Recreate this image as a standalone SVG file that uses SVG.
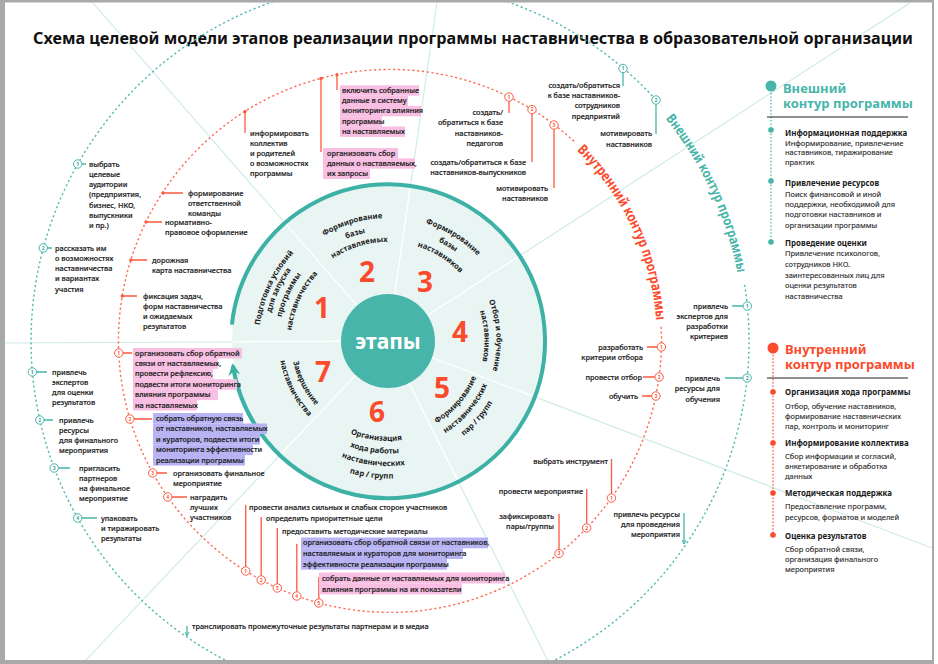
<svg xmlns="http://www.w3.org/2000/svg" width="938" height="664" viewBox="0 0 938 664">
<defs>
<style>
text{font-family:"Noto Sans","Open Sans","DejaVu Sans",sans-serif}
.lb{font-size:7.3px;fill:#1c1c1c;font-weight:500;stroke:#1c1c1c;stroke-width:0.18px}
.e{text-anchor:end}
.st{font-size:7.7px;font-weight:700;fill:#1c1c1c;text-anchor:middle}
.num{font-size:28px;font-weight:700;fill:#fb4a2c;text-anchor:middle}
.lr{stroke:#fb5a3f;stroke-width:1.3;fill:none}
.lt{stroke:#47b5a9;stroke-width:1.3;fill:none}
.mr{fill:#fff;stroke:#fb5a3f;stroke-width:1}
.mt{fill:#fff;stroke:#47b5a9;stroke-width:1}
.mnr{font-size:5px;font-weight:700;fill:#fb5a3f;text-anchor:middle}
.mnt{font-size:5px;font-weight:700;fill:#3a9e94;text-anchor:middle}
.dr{fill:#fb5a3f}
.rad{stroke:#cdeae6;stroke-width:1.1}
.radw{stroke:#ffffff;stroke-width:1.3}
.pk{fill:#f8bfe3}
.pu{fill:#b8b4f4}
.ph{font-size:7.9px;font-weight:700;fill:#1c1c1c}
.pb{font-size:7.5px;fill:#2a2a2a;stroke:#2a2a2a;stroke-width:0.12px}
.hd{font-size:13px;font-weight:700}
</style>
<clipPath id="fr"><rect x="5" y="2.5" width="927" height="657.5"/></clipPath>
<clipPath id="stc"><circle cx="388" cy="341" r="155"/></clipPath>
<marker id="ah" viewBox="0 0 10 10" refX="8" refY="5" markerWidth="12" markerHeight="12" markerUnits="userSpaceOnUse" orient="auto"><path d="M0,0 L10,5 L0,10 L3,5 Z" fill="#3db1a5"/></marker>
<marker id="sa" viewBox="0 0 10 10" refX="9" refY="5" markerWidth="5" markerHeight="5" markerUnits="userSpaceOnUse" orient="auto"><path d="M1,1 L9,5 L1,9" fill="none" stroke="#47b5a9" stroke-width="2"/></marker>
<path id="p1a" d="M296.8,432.2 A129,129 0 0 1 399.2,212.5"/>
<path id="p1b" d="M303.1,425.9 A120,120 0 0 1 398.5,221.5"/>
<path id="p1c" d="M310.9,418.1 A109,109 0 0 1 397.5,232.4"/>
<path id="p1d" d="M319.4,409.6 A97,97 0 0 1 396.5,244.4"/>
<path id="p2a" d="M265.2,334.6 A123,123 0 0 1 486.2,267.0"/>
<path id="p2b" d="M277.7,335.2 A110.5,110.5 0 0 1 476.2,274.5"/>
<path id="p2c" d="M289.1,335.8 A99,99 0 0 1 467.1,281.4"/>
<path id="p3a" d="M312.0,243.7 A123.5,123.5 0 0 1 508.8,366.7"/>
<path id="p3b" d="M319.3,253.1 A111.5,111.5 0 0 1 497.1,364.2"/>
<path id="p3c" d="M327.0,263.0 A99,99 0 0 1 484.8,361.6"/>
<path id="p4a" d="M419.7,237.2 A108.5,108.5 0 0 1 430.4,440.9"/>
<path id="p4b" d="M416.2,248.7 A96.5,96.5 0 0 1 425.7,429.8"/>
<path id="p5a" d="M353.8,430.2 A95.5,95.5 0 0 0 471.5,294.7"/>
<path id="p5b" d="M349.1,442.3 A108.5,108.5 0 0 0 482.9,288.4"/>
<path id="p5c" d="M344.5,454.4 A121.5,121.5 0 0 0 494.3,282.1"/>
<path id="p6a" d="M290.6,363.5 A100,100 0 0 0 477.1,386.4"/>
<path id="p6b" d="M278.4,366.3 A112.5,112.5 0 0 0 488.2,392.1"/>
<path id="p6c" d="M266.2,369.1 A125,125 0 0 0 499.4,397.8"/>
<path id="p6d" d="M254.0,371.9 A137.5,137.5 0 0 0 510.5,403.4"/>
<path id="p7a" d="M317.1,274.8 A97,97 0 0 0 399.8,437.3"/>
<path id="p7b" d="M307.9,266.3 A109.5,109.5 0 0 0 401.3,449.7"/>
<path id="pr" d="M366.7,75.0 A267,267 0 0 1 578.8,529.8"/>
<path id="pt" d="M359.1,-11.7 A354,354 0 0 1 640.3,591.3"/>
</defs>

<g id="frame">
<rect width="938" height="664" fill="#fff"/>
<rect x="0" y="0" width="934" height="664" fill="#a9a9a9"/>
<rect x="5" y="2.5" width="927" height="657.5" fill="#fff"/>
</g>

<g id="radials" clip-path="url(#fr)" class="rad">
<line x1="388" y1="341" x2="92" y2="2"/>
<line x1="388" y1="341" x2="437" y2="2"/>
<line x1="388" y1="341" x2="910" y2="3"/>
<line x1="388" y1="341" x2="932" y2="548"/>
<line x1="388" y1="341" x2="548" y2="661"/>
<line x1="388" y1="341" x2="85" y2="661"/>
<line x1="388" y1="341" x2="5" y2="343"/>
</g>

<text id="title" x="33" y="44" font-size="16.3" font-weight="700" fill="#111" textLength="880" lengthAdjust="spacingAndGlyphs">Схема целевой модели этапов реализации программы наставничества в образовательной организации</text>

<g id="contours" clip-path="url(#fr)">
<path d="M744.6,284.8 A359,359 0 1 1 660.9,105.5" fill="none" stroke="#52bcb1" stroke-width="1.4" stroke-dasharray="2.2 2.6"/>
<path d="M661.1,326.8 A271.5,271.5 0 1 1 575.2,142.4" fill="none" stroke="#ff6b55" stroke-width="1.4" stroke-dasharray="2.2 2.6"/>
<text font-size="14" font-weight="700" fill="#fb4a2c" text-anchor="middle"><textPath href="#pr" startOffset="50%" textLength="192" lengthAdjust="spacingAndGlyphs">Внутренний контур программы</textPath></text>
<text font-size="13.5" font-weight="700" fill="#47b5a9" text-anchor="middle"><textPath href="#pt" startOffset="50%" textLength="172" lengthAdjust="spacingAndGlyphs">Внешний контур программы</textPath></text>
</g>

<g id="stages">
<circle cx="388" cy="341" r="156" fill="#e8f5f3"/>
<g clip-path="url(#stc)" class="radw">
<line x1="388" y1="341" x2="92" y2="2"/>
<line x1="388" y1="341" x2="437" y2="2"/>
<line x1="388" y1="341" x2="910" y2="3"/>
<line x1="388" y1="341" x2="932" y2="548"/>
<line x1="388" y1="341" x2="548" y2="661"/>
<line x1="388" y1="341" x2="85" y2="661"/>
<line x1="388" y1="341" x2="5" y2="343"/>
</g>
<path d="M231.9,324.6 A157,157 0 1 1 232.9,365.6" fill="none" stroke="#3db1a5" stroke-width="4" marker-end="url(#ah)"/>
</g>

<g id="center">
<circle cx="388" cy="341" r="47" fill="#47b5a9"/>
<text x="388" y="348.5" font-size="21" font-weight="700" fill="#fff" text-anchor="middle">этапы</text>
</g>

<g id="stage-1">
<text class="num" x="322" y="318">1</text>
<text class="st"><textPath href="#p1a" startOffset="50%">Подготовка условий</textPath></text>
<text class="st"><textPath href="#p1b" startOffset="50%">для запуска</textPath></text>
<text class="st"><textPath href="#p1c" startOffset="50%">программы</textPath></text>
<text class="st"><textPath href="#p1d" startOffset="50%">наставничества</textPath></text>
</g>
<g id="stage-2">
<text class="num" x="367" y="282">2</text>
<text class="st"><textPath href="#p2a" startOffset="50%">Формирование</textPath></text>
<text class="st"><textPath href="#p2b" startOffset="50%">базы</textPath></text>
<text class="st"><textPath href="#p2c" startOffset="50%">наставляемых</textPath></text>
</g>
<g id="stage-3">
<text class="num" x="425" y="292">3</text>
<text class="st"><textPath href="#p3a" startOffset="50%">Формирование</textPath></text>
<text class="st"><textPath href="#p3b" startOffset="50%">базы</textPath></text>
<text class="st"><textPath href="#p3c" startOffset="50%">наставников</textPath></text>
</g>
<g id="stage-4">
<text class="num" x="460" y="342">4</text>
<text class="st"><textPath href="#p4a" startOffset="50%">Отбор и обучение</textPath></text>
<text class="st"><textPath href="#p4b" startOffset="50%">наставников</textPath></text>
</g>
<g id="stage-5">
<text class="num" x="442" y="398">5</text>
<text class="st"><textPath href="#p5a" startOffset="50%">Формирование</textPath></text>
<text class="st"><textPath href="#p5b" startOffset="50%">наставнических</textPath></text>
<text class="st"><textPath href="#p5c" startOffset="50%">пар / групп</textPath></text>
</g>
<g id="stage-6">
<text class="num" x="377" y="422">6</text>
<text class="st"><textPath href="#p6a" startOffset="50%">Организация</textPath></text>
<text class="st"><textPath href="#p6b" startOffset="50%">хода работы</textPath></text>
<text class="st"><textPath href="#p6c" startOffset="50%">наставнических</textPath></text>
<text class="st"><textPath href="#p6d" startOffset="50%">пар / групп</textPath></text>
</g>
<g id="stage-7">
<text class="num" x="323" y="382">7</text>
<text class="st"><textPath href="#p7a" startOffset="50%">Завершение</textPath></text>
<text class="st"><textPath href="#p7b" startOffset="50%">наставничества</textPath></text>
</g>

<g id="connectors">
<path class="lr" d="M245,111.5V133 M321,78.4V152 M337,74.7V90 M509,101V113 M532,113.6V162 M554,129.3V188 M163,193H183 M146,222H162 M130.9,260H147 M122.3,296H137 M123,353H132 M134,419H152 M157,473H167 M172,497H187 M245.7,505V566.8 M261.2,517V575.8 M277.3,528V583.8 M296.8,544V591.8 M318.8,577V598.8 M611.5,459V493.8 M586.7,489V523.8 M559,514V549.3 M647,347H657.2 M643,377H654.9 M642,396H651.7"/>
<path class="lt" d="M623,72.7V86 M656,104.2V134 M81.9,164H86 M47.5,248H52 M36.5,372H47 M44,420H53 M58.4,468H70 M81.9,518H97 M732,306H743.1 M725,378H742.9"/>
<path class="lt" d="M187,626V636" marker-end="url(#sa)"/>
<path class="lt" d="M684,513V544" marker-end="url(#sa)"/>
<circle class="dr" cx="245" cy="111.5" r="1.7"/>
<circle class="dr" cx="321" cy="78.4" r="1.7"/>
<circle class="dr" cx="337" cy="74.7" r="1.7"/>
<circle class="dr" cx="163" cy="193" r="1.7"/>
<circle class="dr" cx="146" cy="222" r="1.7"/>
<circle class="dr" cx="130.9" cy="260" r="1.7"/>
<circle class="dr" cx="122.3" cy="296" r="1.7"/>
</g>

<g id="markers-red">
<circle class="mr" cx="509" cy="97" r="4.2"/><text class="mnr" x="509" y="98.8">1</text>
<circle class="mr" cx="532" cy="109.6" r="4.2"/><text class="mnr" x="532" y="111.4">2</text>
<circle class="mr" cx="554" cy="125" r="4.2"/><text class="mnr" x="554" y="126.8">3</text>
<circle class="mr" cx="118.8" cy="353" r="4.2"/><text class="mnr" x="118.8" y="354.8">1</text>
<circle class="mr" cx="129.9" cy="419" r="4.2"/><text class="mnr" x="129.9" y="420.8">2</text>
<circle class="mr" cx="152.7" cy="473" r="4.2"/><text class="mnr" x="152.7" y="474.8">3</text>
<circle class="mr" cx="167.8" cy="497" r="4.2"/><text class="mnr" x="167.8" y="498.8">4</text>
<circle class="mr" cx="245.7" cy="571" r="4.2"/><text class="mnr" x="245.7" y="572.8">1</text>
<circle class="mr" cx="261.2" cy="580" r="4.2"/><text class="mnr" x="261.2" y="581.8">2</text>
<circle class="mr" cx="277.3" cy="588" r="4.2"/><text class="mnr" x="277.3" y="589.8">3</text>
<circle class="mr" cx="296.8" cy="596" r="4.2"/><text class="mnr" x="296.8" y="597.8">4</text>
<circle class="mr" cx="318.8" cy="603" r="4.2"/><text class="mnr" x="318.8" y="604.8">5</text>
<circle class="mr" cx="611.5" cy="498" r="4.2"/><text class="mnr" x="611.5" y="499.8">1</text>
<circle class="mr" cx="586.7" cy="528" r="4.2"/><text class="mnr" x="586.7" y="529.8">2</text>
<circle class="mr" cx="559" cy="553.5" r="4.2"/><text class="mnr" x="559" y="555.3">3</text>
<circle class="mr" cx="661.4" cy="347" r="4.2"/><text class="mnr" x="661.4" y="348.8">1</text>
<circle class="mr" cx="659.1" cy="377" r="4.2"/><text class="mnr" x="659.1" y="378.8">2</text>
<circle class="mr" cx="655.9" cy="396" r="4.2"/><text class="mnr" x="655.9" y="397.8">3</text>
</g>
<g id="markers-teal">
<circle class="mt" cx="623" cy="68.5" r="4.2"/><text class="mnt" x="623" y="70.3">1</text>
<circle class="mt" cx="656" cy="100" r="4.2"/><text class="mnt" x="656" y="101.8">2</text>
<circle class="mt" cx="77.7" cy="164" r="4.2"/><text class="mnt" x="77.7" y="165.8">1</text>
<circle class="mt" cx="43.3" cy="248" r="4.2"/><text class="mnt" x="43.3" y="249.8">2</text>
<circle class="mt" cx="32.3" cy="372" r="4.2"/><text class="mnt" x="32.3" y="373.8">1</text>
<circle class="mt" cx="39.8" cy="420" r="4.2"/><text class="mnt" x="39.8" y="421.8">2</text>
<circle class="mt" cx="54.2" cy="468" r="4.2"/><text class="mnt" x="54.2" y="469.8">3</text>
<circle class="mt" cx="77.7" cy="518" r="4.2"/><text class="mnt" x="77.7" y="519.8">4</text>
<circle class="mt" cx="747.3" cy="306" r="4.2"/><text class="mnt" x="747.3" y="307.8">1</text>
<circle class="mt" cx="747.1" cy="378" r="4.2"/><text class="mnt" x="747.1" y="379.8">2</text>
</g>

<g id="top-labels">
<text class="lb" x="250"><tspan x="250" y="135.5">информировать</tspan><tspan x="250" y="145.5">коллектив</tspan><tspan x="250" y="155.5">и родителей</tspan><tspan x="250" y="165.5">о возможностях</tspan><tspan x="250" y="175.5">программы</tspan></text>
<g id="lbl-collect">
<rect class="pk" x="323" y="148" width="75" height="10.4"/><rect class="pk" x="323" y="158.3" width="92" height="10.4"/><rect class="pk" x="323" y="168.6" width="47" height="10.4"/>
<text class="lb"><tspan x="327" y="155.5">организовать сбор</tspan><tspan x="327" y="165.8">данных о наставляемых,</tspan><tspan x="327" y="176.1">их запросы</tspan></text>
</g>
<g id="lbl-include">
<rect class="pk" x="340" y="85.3" width="79" height="10.4"/><rect class="pk" x="340" y="95.6" width="68" height="10.4"/><rect class="pk" x="340" y="105.9" width="81" height="10.4"/><rect class="pk" x="340" y="116.2" width="42" height="10.4"/><rect class="pk" x="340" y="126.5" width="65" height="10.4"/>
<text class="lb"><tspan x="342" y="92.8">включить собранные</tspan><tspan x="342" y="103.1">данные в систему</tspan><tspan x="342" y="113.4">мониторинга влияния</tspan><tspan x="342" y="123.7">программы</tspan><tspan x="342" y="134">на наставляемых</tspan></text>
</g>
</g>

<g id="stage3-labels">
<text class="lb e"><tspan x="503" y="114.5">создать/</tspan><tspan x="503" y="125">обратиться к базе</tspan><tspan x="503" y="135.5">наставников-</tspan><tspan x="503" y="146">педагогов</tspan></text>
<text class="lb e"><tspan x="526" y="164.5">создать/обратиться к базе</tspan><tspan x="526" y="174.5">наставников-выпускников</tspan></text>
<text class="lb e"><tspan x="548" y="190.5">мотивировать</tspan><tspan x="548" y="200.5">наставников</tspan></text>
<text class="lb e"><tspan x="620" y="87.5">создать/обратиться</tspan><tspan x="620" y="97.8">к базе наставников-</tspan><tspan x="620" y="108.3">сотрудников</tspan><tspan x="620" y="118.6">предприятий</tspan></text>
<text class="lb e"><tspan x="652" y="135.5">мотивировать</tspan><tspan x="652" y="146.5">наставников</tspan></text>
</g>

<g id="stage1-labels">
<text class="lb"><tspan x="89" y="166.5">выбрать</tspan><tspan x="89" y="176.8">целевые</tspan><tspan x="89" y="187.1">аудитории</tspan><tspan x="89" y="197.4">(предприятия,</tspan><tspan x="89" y="207.7">бизнес, НКО,</tspan><tspan x="89" y="218">выпускники</tspan><tspan x="89" y="228.3">и пр.)</tspan></text>
<text class="lb"><tspan x="55" y="250.5">рассказать им</tspan><tspan x="55" y="260.8">о возможностях</tspan><tspan x="55" y="271.1">наставничества</tspan><tspan x="55" y="281.4">и вариантах</tspan><tspan x="55" y="291.7">участия</tspan></text>
<text class="lb"><tspan x="188" y="195.5">формирование</tspan><tspan x="188" y="205.8">ответственной</tspan><tspan x="188" y="216.1">команды</tspan></text>
<text class="lb"><tspan x="165" y="224.5">нормативно-</tspan><tspan x="165" y="234.8">правовое оформление</tspan></text>
<text class="lb"><tspan x="152" y="262.5">дорожная</tspan><tspan x="152" y="273">карта наставничества</tspan></text>
<text class="lb"><tspan x="143" y="298.5">фиксация задач,</tspan><tspan x="143" y="308.8">форм наставничества</tspan><tspan x="143" y="319.1">и ожидаемых</tspan><tspan x="143" y="329.4">результатов</tspan></text>
</g>

<g id="stage7-labels">
<text class="lb"><tspan x="52" y="374.5">привлечь</tspan><tspan x="52" y="384.8">экспертов</tspan><tspan x="52" y="395.1">для оценки</tspan><tspan x="52" y="405.4">результатов</tspan></text>
<text class="lb"><tspan x="59" y="422.5">привлечь</tspan><tspan x="59" y="432.8">ресурсы</tspan><tspan x="59" y="443.1">для финального</tspan><tspan x="59" y="453.4">мероприятия</tspan></text>
<text class="lb"><tspan x="79" y="470.5">пригласить</tspan><tspan x="79" y="480.8">партнеров</tspan><tspan x="79" y="491.1">на финальное</tspan><tspan x="79" y="501.4">мероприятие</tspan></text>
<text class="lb"><tspan x="101" y="520.5">упаковать</tspan><tspan x="101" y="530.8">и тиражировать</tspan><tspan x="101" y="541.1">результаты</tspan></text>
<g id="lbl-feedback-mentees">
<rect class="pk" x="133" y="348" width="109" height="10.5"/><rect class="pk" x="133" y="358.4" width="85" height="10.5"/><rect class="pk" x="133" y="368.8" width="80" height="10.5"/><rect class="pk" x="133" y="379.2" width="104" height="10.5"/><rect class="pk" x="133" y="389.6" width="85" height="10.5"/><rect class="pk" x="133" y="400" width="64" height="10.5"/>
<text class="lb"><tspan x="135" y="355.5">организовать сбор обратной</tspan><tspan x="135" y="365.9">связи от наставляемых,</tspan><tspan x="135" y="376.3">провести рефлексию,</tspan><tspan x="135" y="386.7">подвести итоги мониторинга</tspan><tspan x="135" y="397.1">влияния программы</tspan><tspan x="135" y="407.5">на наставляемых</tspan></text>
</g>
<g id="lbl-feedback-all">
<rect class="pu" x="153" y="413" width="90" height="10.6"/><rect class="pu" x="153" y="423.5" width="114" height="10.6"/><rect class="pu" x="153" y="434" width="107" height="10.6"/><rect class="pu" x="153" y="444.5" width="100" height="10.6"/><rect class="pu" x="153" y="455" width="92" height="10.6"/>
<text class="lb"><tspan x="156" y="420.6">собрать обратную связь</tspan><tspan x="156" y="431.1">от наставников, наставляемых</tspan><tspan x="156" y="441.6">и кураторов, подвести итоги</tspan><tspan x="156" y="452.1">мониторинга эффективности</tspan><tspan x="156" y="462.6">реализации программы</tspan></text>
</g>
<text class="lb"><tspan x="173" y="475.5">организовать финальное</tspan><tspan x="173" y="485.8">мероприятие</tspan></text>
<text class="lb"><tspan x="190" y="499.5">наградить</tspan><tspan x="190" y="509.8">лучших</tspan><tspan x="190" y="520.1">участников</tspan></text>
</g>

<g id="stage6-labels">
<text class="lb" x="249" y="509.5">провести анализ сильных и слабых сторон участников</text>
<text class="lb" x="266" y="520.5">определить приоритетные цели</text>
<text class="lb" x="282" y="533.5">предоставить методические материалы</text>
<g id="lbl-monitor-eff">
<rect class="pu" x="301" y="537.5" width="187" height="10.8"/><rect class="pu" x="301" y="548.2" width="162" height="10.8"/><rect class="pu" x="301" y="558.9" width="146" height="10.8"/>
<text class="lb"><tspan x="303" y="545.3">организовать сбор обратной связи от наставников,</tspan><tspan x="303" y="556">наставляемых и кураторов для мониторинга</tspan><tspan x="303" y="566.7">эффективности реализации программы</tspan></text>
</g>
<g id="lbl-monitor-impact">
<rect class="pk" x="319" y="572.5" width="186" height="11"/><rect class="pk" x="319" y="583.4" width="143" height="11"/>
<text class="lb"><tspan x="322" y="580.6">собрать данные от наставляемых для мониторинга</tspan><tspan x="322" y="591.5">влияния программы на их показатели</tspan></text>
</g>
<text class="lb" x="192" y="628.5">транслировать промежуточные результаты партнерам и в медиа</text>
</g>

<g id="stage5-labels">
<text class="lb e" x="608" y="463.5">выбрать инструмент</text>
<text class="lb e" x="583" y="493.5">провести мероприятие</text>
<text class="lb e"><tspan x="554" y="518.5">зафиксировать</tspan><tspan x="554" y="528.8">пары/группы</tspan></text>
<text class="lb e"><tspan x="680" y="516.5">привлечь ресурсы</tspan><tspan x="680" y="526.8">для проведения</tspan><tspan x="680" y="537.1">мероприятия</tspan></text>
</g>

<g id="stage4-labels">
<text class="lb e"><tspan x="643" y="349.5">разработать</tspan><tspan x="643" y="359.8">критерии отбора</tspan></text>
<text class="lb e" x="642" y="379.5">провести отбор</text>
<text class="lb e" x="638" y="398.5">обучить</text>
<text class="lb e"><tspan x="728" y="308.5">привлечь</tspan><tspan x="728" y="318.8">экспертов для</tspan><tspan x="728" y="329.1">разработки</tspan><tspan x="728" y="339.4">критериев</tspan></text>
<text class="lb e"><tspan x="720" y="380.5">привлечь</tspan><tspan x="720" y="391">ресурсы для</tspan><tspan x="720" y="401.5">обучения</tspan></text>
</g>

<g id="legend-external">
<line x1="771" y1="86" x2="771" y2="242" stroke="#47b5a9" stroke-width="1.2" stroke-dasharray="1.6 1.8"/>
<circle cx="771" cy="86" r="5.5" fill="#47b5a9"/>
<text class="hd" x="783" y="93" fill="#47b5a9">Внешний</text>
<text class="hd" x="783" y="107.5" fill="#47b5a9">контур программы</text>
<line x1="767" y1="117" x2="908" y2="117" stroke="#222" stroke-width="1"/>
<circle cx="771" cy="130" r="2.8" fill="#47b5a9"/>
<circle cx="771" cy="181" r="2.8" fill="#47b5a9"/>
<circle cx="771" cy="242" r="2.8" fill="#47b5a9"/>
<text class="ph" x="785" y="135.5">Информационная поддержка</text>
<text class="pb"><tspan x="785" y="145.5">Информирование, привлечение</tspan><tspan x="785" y="155">наставников, тиражирование</tspan><tspan x="785" y="164.5">практик</tspan></text>
<text class="ph" x="785" y="186">Привлечение ресурсов</text>
<text class="pb"><tspan x="785" y="196.5">Поиск финансовой и иной</tspan><tspan x="785" y="206.8">поддержки, необходимой для</tspan><tspan x="785" y="217.4">подготовки наставников и</tspan><tspan x="785" y="227.7">организации программы</tspan></text>
<text class="ph" x="785" y="246">Проведение оценки</text>
<text class="pb"><tspan x="785" y="255.8">Привлечение психологов,</tspan><tspan x="785" y="266.5">сотрудников НКО.</tspan><tspan x="785" y="277.5">заинтересованных лиц для</tspan><tspan x="785" y="288.3">оценки результатов</tspan><tspan x="785" y="298.6">наставничества</tspan></text>
</g>

<g id="legend-internal">
<line x1="773" y1="348" x2="773" y2="535" stroke="#fb4a2c" stroke-width="1.2" stroke-dasharray="1.6 1.8"/>
<circle cx="773" cy="348" r="5.5" fill="#fb4a2c"/>
<text class="hd" x="785" y="354" fill="#fb4a2c">Внутренний</text>
<text class="hd" x="785" y="369" fill="#fb4a2c">контур программы</text>
<line x1="767" y1="378" x2="908" y2="378" stroke="#222" stroke-width="1"/>
<circle cx="773" cy="392" r="2.8" fill="#fb4a2c"/>
<circle cx="773" cy="443" r="2.8" fill="#fb4a2c"/>
<circle cx="773" cy="493" r="2.8" fill="#fb4a2c"/>
<circle cx="773" cy="535" r="2.8" fill="#fb4a2c"/>
<text class="ph" x="785" y="395">Организация хода программы</text>
<text class="pb"><tspan x="785" y="408.5">Отбор, обучение наставников,</tspan><tspan x="785" y="418.5">формирование наставнических</tspan><tspan x="785" y="428.5">пар, контроль и мониторинг</tspan></text>
<text class="ph" x="785" y="446">Информирование коллектива</text>
<text class="pb"><tspan x="785" y="458.5">Сбор информации и согласий,</tspan><tspan x="785" y="468.5">анкетирование и обработка</tspan><tspan x="785" y="478.5">данных</tspan></text>
<text class="ph" x="785" y="496">Методическая поддержка</text>
<text class="pb"><tspan x="785" y="508.5">Предоставление программ,</tspan><tspan x="785" y="519.5">ресурсов, форматов и моделей</tspan></text>
<text class="ph" x="785" y="538.5">Оценка результатов</text>
<text class="pb"><tspan x="785" y="551.5">Сбор обратной связи,</tspan><tspan x="785" y="561.5">организация финального</tspan><tspan x="785" y="571.5">мероприятия</tspan></text>
</g>
</svg>
